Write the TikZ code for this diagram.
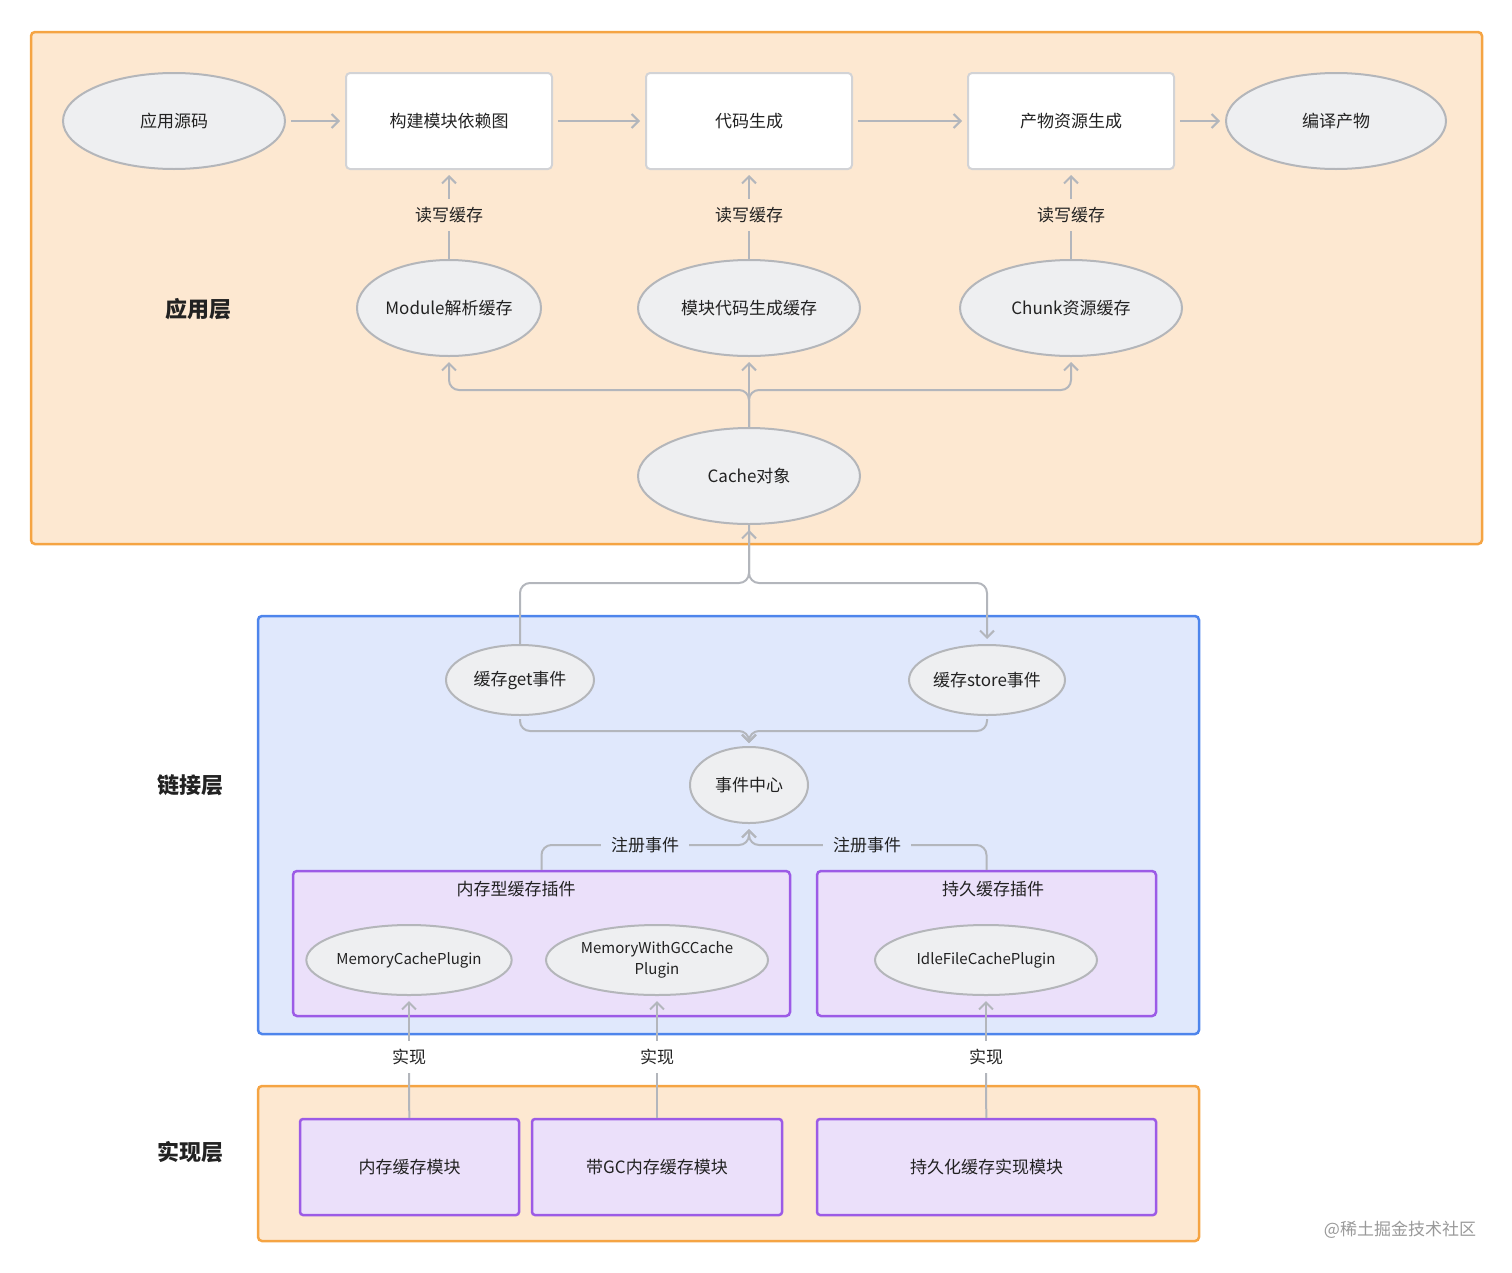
\documentclass[tikz,border=0pt]{standalone}
\usepackage{fontspec}
\setmainfont{Noto Sans CJK SC}
\usepackage{tikz}
\usetikzlibrary{shapes.geometric,arrows.meta}

\definecolor{peach}{HTML}{FDE8D1}
\definecolor{orangeline}{HTML}{F5A443}
\definecolor{bluefill}{HTML}{E0E8FC}
\definecolor{blueline}{HTML}{4E85EC}
\definecolor{purplefill}{HTML}{EBE0FA}
\definecolor{purpleline}{HTML}{9C5BE6}
\definecolor{ovalfill}{HTML}{EEEFF1}
\definecolor{ovalline}{HTML}{B4B6BA}
\definecolor{linkgray}{HTML}{B3B6BC}
\definecolor{ink}{HTML}{222222}

\begin{document}
\begin{tikzpicture}[x=1pt, y=-1pt,
    every node/.style={text=ink, font=\fontsize{17}{20}\selectfont},
    layerbox/.style={draw=orangeline, fill=peach, line width=2.5pt, rounded corners=4pt},
    linkbox/.style={draw=blueline, fill=bluefill, line width=2.5pt, rounded corners=4pt},
    plugbox/.style={draw=purpleline, fill=purplefill, line width=2.5pt, rounded corners=4pt},
    oval/.style={ellipse, draw=ovalline, fill=ovalfill, line width=2pt, inner sep=0pt, minimum height=96},
    smalloval/.style={oval, minimum height=70},
    stagebox/.style={draw=ovalline!60, fill=white, line width=2pt, rounded corners=4pt,
      minimum width=206, minimum height=96},
    modbox/.style={draw=purpleline, fill=purplefill, line width=2.5pt, rounded corners=3pt,
      minimum height=96},
    lbl/.style={inner sep=8pt},
    layerlbl/.style={font=\fontsize{22}{26}\selectfont\bfseries},
    plugname/.style={font=\fontsize{15}{21}\selectfont},
    conn/.style={draw=linkgray, line width=2pt, rounded corners=10pt},
    flow/.style={conn, -{Straight Barb[length=7pt, width=14pt, line width=2pt]}, shorten >=5pt}
  ]
  \useasboundingbox (0,0) rectangle (1512,1272);

  \draw[layerbox] (31,32) rectangle (1482,544);
  \draw[linkbox] (258,616) rectangle (1199,1034);
  \draw[layerbox] (258,1086) rectangle (1199,1241);
  \node[plugbox, minimum width=497, minimum height=145] (memplug) at (541.5,943.5) {};
  \node[plugbox, minimum width=339, minimum height=145] (durplug) at (986.5,943.5) {};

  \node[layerlbl] (applbl) at (198,309) {应用层};
  \node[layerlbl] (linklbl) at (190,785) {链接层};
  \node[layerlbl] (impllbl) at (190,1152) {实现层};

  \node[oval, minimum width=222] (src) at (174,121) {应用源码};
  \node[stagebox] (build) at (449,121) {构建模块依赖图};
  \node[stagebox] (gen) at (749,121) {代码生成};
  \node[stagebox] (asset) at (1071,121) {产物资源生成};
  \node[oval, minimum width=220] (out) at (1336,121) {编译产物};

  \draw[flow, shorten <=5pt] (src) -- (build);
  \draw[flow, shorten <=5pt] (build) -- (gen);
  \draw[flow, shorten <=5pt] (gen) -- (asset);
  \draw[flow, shorten <=5pt] (asset) -- (out);

  \node[oval, minimum width=184] (modcache) at (449,308) {Module解析缓存};
  \node[oval, minimum width=222] (gencache) at (749,308) {模块代码生成缓存};
  \node[oval, minimum width=222] (chunkcache) at (1071,308) {Chunk资源缓存};

  \node[lbl] (rw1) at (449,215) {读写缓存};
  \node[lbl] (rw2) at (749,215) {读写缓存};
  \node[lbl] (rw3) at (1071,215) {读写缓存};
  \draw[conn] (modcache) -- (rw1);
  \draw[flow] (rw1) -- (build);
  \draw[conn] (gencache) -- (rw2);
  \draw[flow] (rw2) -- (gen);
  \draw[conn] (chunkcache) -- (rw3);
  \draw[flow] (rw3) -- (asset);

  \node[oval, minimum width=222] (cache) at (749,476) {Cache对象};
  \coordinate (fork) at (749,390);
  \draw[flow] (cache.north) -- (fork) -| (modcache.south);
  \draw[flow] (cache.north) -- (fork) -| (chunkcache.south);
  \draw[flow] (cache.north) -- (gencache.south);

  \node[smalloval, minimum width=148] (getev) at (520,680) {缓存get事件};
  \node[smalloval, minimum width=156] (storeev) at (987,680) {缓存store事件};
  \coordinate (split) at (749,583);
  \draw[flow] (getev.north) |- (split) -- (cache.south);
  \draw[flow] (cache.south) -- (split) -| (storeev.north);

  \node[oval, minimum width=118, minimum height=76] (center) at (749,785) {事件中心};
  \coordinate (merge) at (749,731);
  \draw[flow, shorten <=3pt, shorten >=3pt] (getev.south) |- (merge) -- (center.north);
  \draw[flow, shorten <=3pt, shorten >=3pt] (storeev.south) |- (merge) -- (center.north);

  \node[lbl, inner sep=10pt] (reg1) at (645,845) {注册事件};
  \node[lbl, inner sep=10pt] (reg2) at (867,845) {注册事件};
  \draw[conn] (memplug.north) |- (reg1.west);
  \draw[flow] (reg1.east) -| (center.south);
  \draw[conn] (durplug.north) |- (reg2.east);
  \draw[flow] (reg2.west) -| (center.south);

  \node (memtitle) at (516,889) {内存型缓存插件};
  \node (durtitle) at (993,889) {持久缓存插件};
  \node[smalloval, plugname, minimum width=204] (mcp) at (409,960) {MemoryCachePlugin};
  \node[smalloval, plugname, minimum width=222, align=center] (gcp) at (657,960) {MemoryWithGCCache\\Plugin};
  \node[smalloval, plugname, minimum width=222] (idle) at (986,960) {IdleFileCachePlugin};

  \node[modbox, minimum width=219] (memmod) at (409.5,1167) {内存缓存模块};
  \node[modbox, minimum width=250] (gcmod) at (657,1167) {带GC内存缓存模块};
  \node[modbox, minimum width=339] (durmod) at (986.5,1167) {持久化缓存实现模块};

  \node[lbl] (impl1) at (409,1057) {实现};
  \node[lbl] (impl2) at (657,1057) {实现};
  \node[lbl] (impl3) at (986,1057) {实现};
  \draw[conn] (memmod) -- (impl1);
  \draw[flow] (impl1) -- (mcp);
  \draw[conn] (gcmod) -- (impl2);
  \draw[flow] (impl2) -- (gcp);
  \draw[conn] (durmod) -- (impl3);
  \draw[flow] (impl3) -- (idle);

  \node[text=black!40] (mark) at (1400,1230) {@稀土掘金技术社区};
\end{tikzpicture}
\end{document}
